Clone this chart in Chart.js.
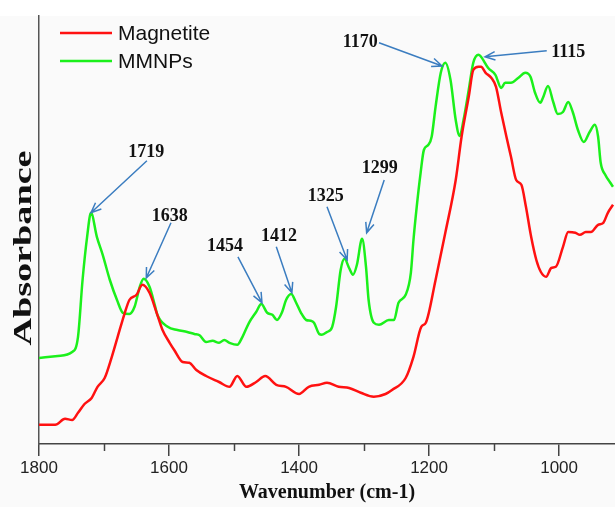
<!DOCTYPE html>
<html>
<head>
<meta charset="utf-8">
<script src="https://cdn.jsdelivr.net/npm/chart.js@4.4.1/dist/chart.umd.min.js"></script>
<style>
  html, body { margin: 0; padding: 0; background: #fff; }
  #wrap { width: 615px; height: 507px; }
</style>
</head>
<body>
<div id="wrap"><canvas id="myChart" width="615" height="507"></canvas></div>
<script>
// FTIR spectra (wavenumber in cm-1, absorbance in arbitrary units)
var magnetiteWave = [1800, 1775, 1760, 1749, 1740, 1730, 1719, 1710, 1699, 1688, 1679, 1668, 1661, 1650, 1641,
  1630, 1619, 1610, 1599, 1592, 1579, 1569, 1558, 1543, 1523, 1507, 1495, 1481, 1466, 1452, 1435, 1420, 1400,
  1385, 1369, 1357, 1339, 1323, 1305, 1285, 1267, 1257, 1236, 1224, 1212, 1205, 1190, 1175, 1159, 1150, 1139,
  1132, 1124, 1120, 1113, 1104, 1097, 1089, 1081, 1074, 1066, 1058, 1051, 1043, 1035, 1028, 1020, 1012, 1005,
  994, 986, 975, 968, 959, 951, 940, 932, 925, 917];
var magnetiteAbs = [0.048, 0.048, 0.063, 0.06, 0.078, 0.1, 0.115, 0.143, 0.165, 0.218, 0.268, 0.328, 0.36, 0.373, 0.398,
  0.378, 0.328, 0.285, 0.253, 0.235, 0.205, 0.203, 0.185, 0.17, 0.155, 0.143, 0.17, 0.143, 0.155, 0.17, 0.148, 0.143, 0.125,
  0.143, 0.148, 0.153, 0.143, 0.14, 0.128, 0.118, 0.125, 0.135, 0.165, 0.218, 0.293, 0.303, 0.41, 0.528, 0.66, 0.768, 0.868,
  0.935, 0.943, 0.943, 0.928, 0.915, 0.893, 0.828, 0.768, 0.718, 0.66, 0.648, 0.593, 0.518, 0.46, 0.43, 0.418, 0.44, 0.443,
  0.493, 0.53, 0.528, 0.523, 0.53, 0.53, 0.548, 0.553, 0.578, 0.598];

var mmnpWave = [1800, 1771, 1749, 1740, 1733, 1726, 1720, 1711, 1702, 1691, 1680, 1671, 1661, 1653, 1645, 1639,
  1630, 1622, 1618, 1602, 1587, 1572, 1561, 1553, 1543, 1533, 1523, 1515, 1507, 1495, 1487, 1477, 1466, 1458,
  1449, 1441, 1434, 1426, 1420, 1412, 1405, 1397, 1389, 1382, 1377, 1369, 1365, 1357, 1349, 1343, 1336, 1330,
  1323, 1317, 1311, 1303, 1297, 1293, 1285, 1277, 1262, 1254, 1247, 1236, 1228, 1224, 1219, 1213, 1208, 1201,
  1196, 1190, 1182, 1175, 1167, 1159, 1153, 1147, 1139, 1132, 1124, 1121, 1109, 1098, 1089, 1083, 1074, 1063,
  1052, 1044, 1037, 1029, 1025, 1017, 1009, 1002, 994, 986, 979, 971, 962, 953, 945, 940, 936, 929, 922, 917];
var mmnpAbs = [0.215, 0.22, 0.23, 0.268, 0.41, 0.518, 0.578, 0.518, 0.473, 0.41, 0.36, 0.328, 0.325, 0.343, 0.393, 0.413,
  0.393, 0.348, 0.323, 0.293, 0.285, 0.28, 0.275, 0.272, 0.255, 0.258, 0.253, 0.26, 0.253, 0.248, 0.268, 0.303, 0.33, 0.35,
  0.328, 0.323, 0.31, 0.33, 0.36, 0.375, 0.355, 0.328, 0.31, 0.308, 0.303, 0.275, 0.273, 0.28, 0.293, 0.343, 0.435, 0.463,
  0.44, 0.423, 0.448, 0.513, 0.443, 0.36, 0.303, 0.298, 0.31, 0.31, 0.353, 0.373, 0.428, 0.51, 0.593, 0.678, 0.735, 0.748,
  0.768, 0.843, 0.928, 0.953, 0.91, 0.81, 0.77, 0.81, 0.885, 0.953, 0.973, 0.97, 0.94, 0.923, 0.89, 0.903, 0.903, 0.915,
  0.928, 0.918, 0.878, 0.853, 0.865, 0.895, 0.855, 0.825, 0.83, 0.855, 0.83, 0.785, 0.755, 0.78, 0.798, 0.768, 0.703, 0.673, 0.655, 0.643];

var xTicks = [1800, 1600, 1400, 1200, 1000];
var xMinorTicks = [1700, 1500, 1300, 1100];

// peak labels: text, label position, arrow start, arrow tip (all in data units)
var peakNames = ["1719", "1638", "1454", "1412", "1325", "1299", "1170", "1115"];
var labelWave = [1635, 1599, 1514, 1431, 1359, 1276, 1306, 986];
var labelAbs  = [0.73, 0.57, 0.495, 0.52, 0.618, 0.688, 1.003, 0.98];
var fromWave  = [1634, 1597, 1494, 1435, 1357, 1269, 1277, 1019];
var fromAbs   = [0.708, 0.553, 0.468, 0.493, 0.593, 0.66, 1.003, 0.983];
var tipWave   = [1720, 1635, 1457, 1411, 1326, 1296, 1180, 1114];
var tipAbs    = [0.578, 0.415, 0.353, 0.378, 0.46, 0.528, 0.945, 0.968];

function pairs(xs, ys) {
  return xs.map(function (x, i) { return { x: x, y: ys[i] }; });
}

var serif = '"Liberation Serif", "Times New Roman", serif';
var sans = '"Liberation Sans", Arial, sans-serif';

var extras = {
  id: 'extras',
  beforeDraw: function (chart) {
    var c = chart.ctx;
    c.save();
    c.fillStyle = '#ffffff';
    c.fillRect(0, 0, chart.width, chart.height);
    c.fillStyle = '#fafafa';
    c.fillRect(0, chart.chartArea.top, chart.width, chart.height - chart.chartArea.top);
    c.restore();
  },
  afterDraw: function (chart) {
    var c = chart.ctx;
    var xs = chart.scales.x, ys = chart.scales.y;
    var area = chart.chartArea;
    c.save();

    // minor ticks
    c.strokeStyle = '#444';
    c.lineWidth = 1.5;
    xMinorTicks.forEach(function (t) {
      var px = Math.round(xs.getPixelForValue(t)) + 0.5;
      c.beginPath();
      c.moveTo(px, area.bottom);
      c.lineTo(px, area.bottom + 7);
      c.stroke();
    });

    // arrows + peak labels
    c.strokeStyle = '#3b7dc0';
    c.lineWidth = 1.5;
    for (var i = 0; i < peakNames.length; i++) {
      var x0 = xs.getPixelForValue(fromWave[i]), y0 = ys.getPixelForValue(fromAbs[i]);
      var x1 = xs.getPixelForValue(tipWave[i]), y1 = ys.getPixelForValue(tipAbs[i]);
      var ang = Math.atan2(y1 - y0, x1 - x0);
      c.beginPath();
      c.moveTo(x0, y0);
      c.lineTo(x1, y1);
      c.moveTo(x1 - 11 * Math.cos(ang - 0.4), y1 - 11 * Math.sin(ang - 0.4));
      c.lineTo(x1, y1);
      c.lineTo(x1 - 11 * Math.cos(ang + 0.4), y1 - 11 * Math.sin(ang + 0.4));
      c.stroke();
    }
    c.fillStyle = '#111';
    c.font = 'bold 18px ' + serif;
    c.textAlign = 'center';
    c.textBaseline = 'middle';
    for (var j = 0; j < peakNames.length; j++) {
      c.fillText(peakNames[j], xs.getPixelForValue(labelWave[j]), ys.getPixelForValue(labelAbs[j]));
    }

    // legend
    var legend = [['Magnetite', '#ff1111', 33], ['MMNPs', '#1bf01b', 61]];
    c.font = '21px ' + sans;
    c.textAlign = 'left';
    legend.forEach(function (l) {
      c.strokeStyle = l[1];
      c.lineWidth = 2.5;
      c.beginPath();
      c.moveTo(60, l[2]);
      c.lineTo(112, l[2]);
      c.stroke();
      c.fillStyle = '#111';
      c.fillText(l[0], 118, l[2] + 1);
    });

    // axis titles
    c.fillStyle = '#111';
    c.font = 'bold 20px ' + serif;
    c.textAlign = 'center';
    c.fillText('Wavenumber (cm-1)', 327, 493);

    c.font = 'bold 26px ' + serif;
    var w = c.measureText('Absorbance').width;
    c.translate(24, 248);
    c.rotate(-Math.PI / 2);
    c.scale(195 / w, 1);
    c.fillText('Absorbance', 0, 0);
    c.restore();
  }
};

var ctx = document.getElementById('myChart').getContext('2d');
var chart = new Chart(ctx, {
  type: 'line',
  data: {
    datasets: [
      {
        label: 'Magnetite',
        data: pairs(magnetiteWave, magnetiteAbs),
        borderColor: '#ff1111',
        borderWidth: 2.5,
        pointRadius: 0,
        cubicInterpolationMode: 'monotone'
      },
      {
        label: 'MMNPs',
        data: pairs(mmnpWave, mmnpAbs),
        borderColor: '#1bf01b',
        borderWidth: 2.5,
        pointRadius: 0,
        cubicInterpolationMode: 'monotone'
      }
    ]
  },
  options: {
    responsive: false,
    animation: false,
    layout: { padding: { top: 16, right: 0, left: 0, bottom: 0 } },
    plugins: { legend: { display: false }, tooltip: { enabled: false } },
    scales: {
      x: {
        type: 'linear',
        reverse: true,
        min: 914,
        max: 1800,
        afterFit: function (s) { s.height = 63; },
        afterBuildTicks: function (s) { s.ticks = xTicks.map(function (v) { return { value: v }; }); },
        ticks: {
          color: '#222',
          font: { family: sans, size: 17 },
          padding: 2,
          maxRotation: 0,
          callback: function (v) { return String(v); }
        },
        grid: { drawOnChartArea: false, tickLength: 12, tickColor: '#444', lineWidth: 1.5 },
        border: { color: '#444', width: 1.5 }
      },
      y: {
        min: 0,
        max: 1.07,
        afterFit: function (s) { s.width = 39; },
        ticks: { display: false },
        grid: { display: false },
        border: { color: '#555', width: 1.5 }
      }
    }
  },
  plugins: [extras]
});
</script>
</body>
</html>
